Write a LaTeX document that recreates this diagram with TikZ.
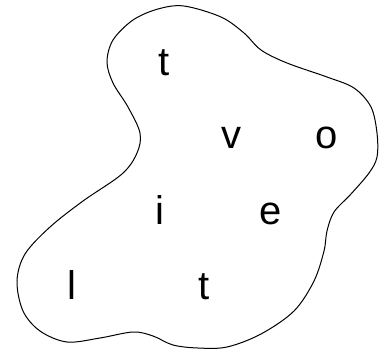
\documentclass[tikz,border=0pt]{standalone}
\usepackage{fontspec}
\setmainfont{Liberation Sans}
\begin{document}
\begin{tikzpicture}[x=1pt,y=-1pt,
  letter/.style={anchor=base,inner sep=0pt,font=\fontsize{40}{40}\selectfont},
  blob/.style={draw=black,line width=1pt}]
\useasboundingbox (0,0) rectangle (389,349);
\draw[blob] plot[smooth cycle,tension=0.55] coordinates {
(184,6) (221,17) (244,33) (261,50) (287,63) (327,77) (354,88) (371,107)
(377,133) (377,157) (369,173) (351,194) (334,212) (327,231) (324,251)
(314,281) (294,311) (261,334) (227,347) (198,348) (173,345) (153,336)
(133,332) (100,338) (67,342) (40,331) (23,311) (17,281) (25,254) (50,227)
(83,201) (122,174) (137,153) (140,133) (128,107) (113,83) (107,62)
(113,40) (133,20) (158,9)};
\node[letter] (t1) at (164,75) {t};
\node[letter] (v) at (231,148) {v};
\node[letter] (o) at (327,148) {o};
\node[letter] (i) at (160,224) {i};
\node[letter] (e) at (271,224) {e};
\node[letter] (l) at (72,299) {l};
\node[letter] (t2) at (204,299) {t};
\end{tikzpicture}
\end{document}
